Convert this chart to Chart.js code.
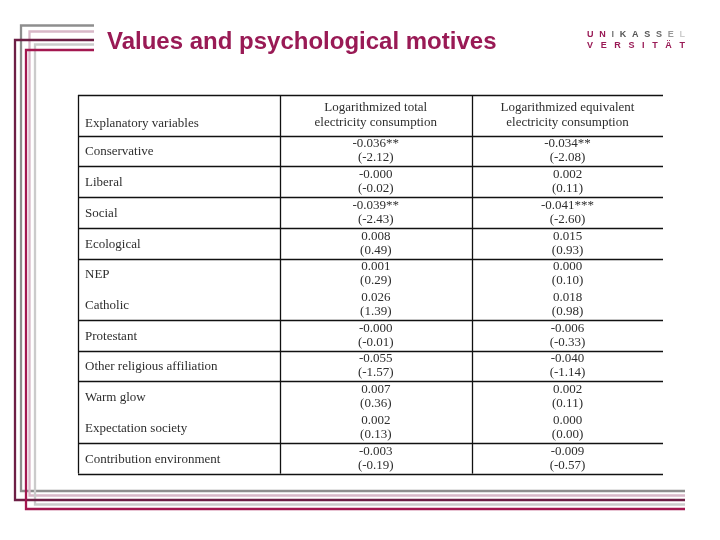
<!DOCTYPE html>
<html>
<head>
<meta charset="utf-8">
<title>Values and psychological motives</title>
<script src="https://cdn.jsdelivr.net/npm/chart.js@4.4.1/dist/chart.umd.min.js"></script>
<style>
  body { margin: 0; background: #fff; }
  #wrap { position: relative; width: 720px; height: 540px; overflow: hidden; }
  #table { position: absolute; left: 0; top: 0; }
  #title {
    position: absolute; left: 107px; top: 26.5px; line-height: 1;
    font: bold 24px "Liberation Sans", Arial, sans-serif; color: #991a55;
  }
  .logo {
    position: absolute; left: 587px; width: 98px; line-height: 1;
    display: flex; justify-content: space-between;
    font: bold 9px "Liberation Sans", Arial, sans-serif; color: #991a55;
  }
</style>
</head>
<body>
<div id="wrap">
  <canvas id="table" width="720" height="540"></canvas>
  <div id="title">Values and psychological motives</div>
  <div class="logo" style="top:28.5px">
    <span>U</span><span>N</span><span style="color:#777">I</span><span style="color:#555">K</span><span style="color:#555">A</span><span style="color:#555">S</span><span style="color:#666">S</span><span style="color:#999">E</span><span style="color:#ccc">L</span>
  </div>
  <div class="logo" style="top:39.5px">
    <span>V</span><span>E</span><span>R</span><span>S</span><span>I</span><span>T</span><span>Ä</span><span>T</span>
  </div>
</div>
<script>
/* --------------- Table content --------------------- */
const headers = [
  ["Explanatory variables"],
  ["Logarithmized total", "electricity consumption"],
  ["Logarithmized equivalent", "electricity consumption"],
];
const variables = [
  "Conservative", "Liberal", "Social", "Ecological", "NEP", "Catholic",
  "Protestant", "Other religious affiliation", "Warm glow",
  "Expectation society", "Contribution environment",
];
const totalCoef = ["-0.036**", "-0.000", "-0.039**", "0.008", "0.001", "0.026",
  "-0.000", "-0.055", "0.007", "0.002", "-0.003"];
const totalT = ["(-2.12)", "(-0.02)", "(-2.43)", "(0.49)", "(0.29)", "(1.39)",
  "(-0.01)", "(-1.57)", "(0.36)", "(0.13)", "(-0.19)"];
const equivCoef = ["-0.034**", "0.002", "-0.041***", "0.015", "0.000", "0.018",
  "-0.006", "-0.040", "0.002", "0.000", "-0.009"];
const equivT = ["(-2.08)", "(0.11)", "(-2.60)", "(0.93)", "(0.10)", "(0.98)",
  "(-0.33)", "(-1.14)", "(0.11)", "(0.00)", "(-0.57)"];
/* rows that share a block with the row above (no rule between them) */
const joinedRows = ["Catholic", "Expectation society"];

/* --------------- Layout --------------------- */
const colEdges = [0, 201.5, 394, 585];   // column borders in x-scale units
const headerRows = 1.325;                // header height in row units
const textFont = '13px "Liberation Serif", "Times New Roman", serif';
const textColor = "#2e2e2e";

const rowCenter = (i) => headerRows + i + 0.5;
const colCenter = (c) => (colEdges[c] + colEdges[c + 1]) / 2;

/* --------------- Decorative frame --------------------- */
const frameLines = [
  { x: 21, top: 25.5, bottom: 491, color: "#8e8e8e" },
  { x: 29.5, top: 31.5, bottom: 495.5, color: "#d8b8c8" },
  { x: 35, top: 44.5, bottom: 504.5, color: "#cbcbcb" },
  { x: 15, top: 40, bottom: 500, color: "#6d1f45" },
  { x: 26, top: 50, bottom: 509, color: "#a3174f" },
];
const framePlugin = {
  id: "frame",
  beforeDraw(chart) {
    const ctx = chart.ctx;
    ctx.save();
    ctx.lineWidth = 2.3;
    for (const f of frameLines) {
      ctx.strokeStyle = f.color;
      ctx.beginPath();
      ctx.moveTo(94, f.top);
      ctx.lineTo(f.x, f.top);
      ctx.lineTo(f.x, f.bottom);
      ctx.lineTo(685, f.bottom);
      ctx.stroke();
    }
    ctx.restore();
  },
};

/* --------------- Grid + text of the table --------------------- */
const tablePlugin = {
  id: "table",
  afterDatasetsDraw(chart) {
    const ctx = chart.ctx;
    const xs = chart.scales.x, ys = chart.scales.y;
    const left = xs.getPixelForValue(colEdges[0]);
    const right = xs.getPixelForValue(colEdges[3]);
    const top = ys.getPixelForValue(0);
    const bottom = ys.getPixelForValue(headerRows + variables.length);
    ctx.save();
    // rules
    ctx.strokeStyle = "#111";
    ctx.lineWidth = 1.3;
    const rules = [0, headerRows];
    variables.forEach((v, i) => {
      if (i > 0 && !joinedRows.includes(v)) rules.push(headerRows + i);
    });
    rules.push(headerRows + variables.length);
    ctx.beginPath();
    for (const r of rules) {
      const y = Math.round(ys.getPixelForValue(r)) + 0.5;
      ctx.moveTo(left, y);
      ctx.lineTo(right, y);
    }
    for (let c = 0; c < 3; c++) {
      const x = Math.round(xs.getPixelForValue(colEdges[c])) + 0.5;
      ctx.moveTo(x, top);
      ctx.lineTo(x, bottom);
    }
    ctx.stroke();

    // header
    ctx.font = textFont;
    ctx.fillStyle = textColor;
    ctx.textBaseline = "middle";
    const hy = ys.getPixelForValue(headerRows / 2);
    ctx.textAlign = "left";
    ctx.fillText(headers[0][0], left + 7, hy + 8.5);
    ctx.textAlign = "center";
    for (let c = 1; c < 3; c++) {
      const hx = xs.getPixelForValue(colCenter(c));
      ctx.fillText(headers[c][0], hx, hy - 8);
      ctx.fillText(headers[c][1], hx, hy + 7);
    }

    // body cells from the dataset points
    const labelMeta = chart.getDatasetMeta(0);
    ctx.textAlign = "left";
    labelMeta.data.forEach((pt, i) => ctx.fillText(variables[i], pt.x + 7, pt.y + 1));
    [[1, totalCoef, totalT], [2, equivCoef, equivT]].forEach(([d, coef, t]) => {
      ctx.textAlign = "center";
      chart.getDatasetMeta(d).data.forEach((pt, i) => {
        ctx.fillText(coef[i], pt.x, pt.y - 7);
        ctx.fillText(t[i], pt.x, pt.y + 7);
      });
    });
    ctx.restore();
  },
};

/* --------------- Chart --------------------- */
const table = new Chart(document.getElementById("table"), {
  type: "scatter",
  plugins: [framePlugin, tablePlugin],
  data: {
    datasets: [
      { label: "Explanatory variables", data: variables.map((v, i) => ({ x: colEdges[0], y: rowCenter(i) })) },
      { label: "Total", data: totalCoef.map((v, i) => ({ x: colCenter(1), y: rowCenter(i) })) },
      { label: "Equivalent", data: equivCoef.map((v, i) => ({ x: colCenter(2), y: rowCenter(i) })) },
    ],
  },
  options: {
    responsive: false,
    animation: false,
    events: [],
    elements: { point: { radius: 0, hoverRadius: 0 } },
    layout: { padding: { left: 78, top: 95, right: 57, bottom: 66.5 } },
    scales: {
      x: { type: "linear", display: false, min: colEdges[0], max: colEdges[3] },
      y: { type: "linear", display: false, reverse: true, min: 0, max: headerRows + variables.length },
    },
    plugins: {
      legend: { display: false },
      tooltip: { enabled: false },
      title: { display: false },
    },
  },
});
</script>
</body>
</html>
